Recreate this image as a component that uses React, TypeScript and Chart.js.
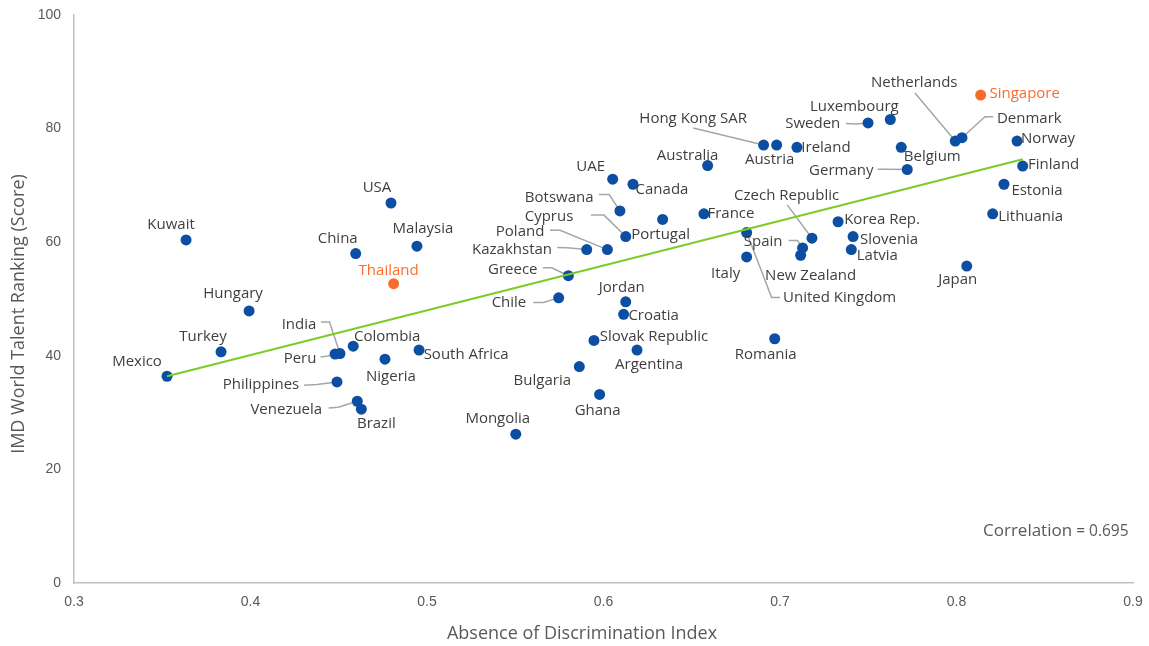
import React, { useEffect, useRef } from 'react';
import { Chart, registerables } from 'chart.js';

Chart.register(...registerables);

// ---- Data ----
const countries = [
  'Mexico', 'Turkey', 'Hungary', 'Kuwait', 'China', 'USA', 'Malaysia', 'Thailand',
  'India', 'Peru', 'Colombia', 'Nigeria', 'South Africa', 'Philippines', 'Venezuela', 'Brazil',
  'Mongolia', 'Greece', 'Chile', 'Kazakhstan', 'Poland', 'Cyprus', 'Botswana', 'UAE',
  'Canada', 'Portugal', 'Jordan', 'Croatia', 'Slovak Republic', 'Argentina', 'Bulgaria', 'Ghana',
  'Romania', 'Australia', 'France', 'United Kingdom', 'Italy', 'Czech Republic', 'Spain', 'New Zealand',
  'Korea Rep.', 'Slovenia', 'Latvia', 'Hong Kong SAR', 'Austria', 'Ireland', 'Sweden', 'Luxembourg',
  'Belgium', 'Germany', 'Netherlands', 'Denmark', 'Singapore', 'Norway', 'Finland', 'Estonia',
  'Lithuania', 'Japan',
];

const discrimination = [
  0.3527, 0.3833, 0.3992, 0.3635, 0.4596, 0.4796, 0.4943, 0.4811,
  0.4507, 0.4479, 0.4582, 0.4762, 0.4955, 0.4490, 0.4605, 0.4628,
  0.5503, 0.5801, 0.5746, 0.5905, 0.6022, 0.6126, 0.6093, 0.6052,
  0.6167, 0.6335, 0.6126, 0.6114, 0.5946, 0.6190, 0.5863, 0.5978,
  0.6970, 0.6590, 0.6569, 0.6811, 0.6811, 0.7181, 0.7128, 0.7117,
  0.7329, 0.7414, 0.7404, 0.6907, 0.6981, 0.7096, 0.7499, 0.7625,
  0.7687, 0.7721, 0.7993, 0.8031, 0.8137, 0.8343, 0.8375, 0.8269,
  0.8205, 0.8058,
];

const talentScore = [
  36.4, 40.7, 47.9, 60.4, 58.0, 66.9, 59.3, 52.7,
  40.4, 40.3, 41.7, 39.4, 41.0, 35.4, 32.0, 30.6,
  26.2, 54.1, 50.2, 58.7, 58.7, 61.0, 65.5, 71.1,
  70.2, 64.0, 49.5, 47.3, 42.7, 41.0, 38.1, 33.2,
  43.0, 73.5, 65.0, 61.7, 57.4, 60.7, 59.0, 57.7,
  63.6, 61.0, 58.7, 77.1, 77.1, 76.7, 81.0, 81.6,
  76.7, 72.8, 77.8, 78.4, 85.9, 77.8, 73.4, 70.2,
  65.0, 55.8,
];

const highlighted = ['Singapore', 'Thailand'];

const trendX = [0.3527, 0.8375];
const trendY = [36.4, 74.6];

const xTicks = [0.3, 0.4, 0.5, 0.6, 0.7, 0.8, 0.9];
const yTicks = [0, 20, 40, 60, 80, 100];

const correlation = 0.695;
const xTitle = 'Absence of Discrimination Index';
const yTitle = 'IMD World Talent Ranking (Score)';

// ---- Label layout (pixel offsets from each point) ----
type Lay = { dx: number; dy: number; leader?: number[][] };
const labelLayout: Record<string, Lay> = {
  Mexico: { dx: -30, dy: -15 },
  Turkey: { dx: -18, dy: -15 },
  Hungary: { dx: -16, dy: -17 },
  Kuwait: { dx: -15, dy: -15 },
  China: { dx: -18, dy: -15 },
  USA: { dx: -14, dy: -15 },
  Malaysia: { dx: 6, dy: -17 },
  Thailand: { dx: -5, dy: -13 },
  India: { dx: -41, dy: -29, leader: [[-19, -31.5], [-10.5, -31.5]] },
  Peru: { dx: -35, dy: 4.5, leader: [[-14.5, 3], [-7, 2]] },
  Colombia: { dx: 34, dy: -9 },
  Nigeria: { dx: 6, dy: 18 },
  'South Africa': { dx: 47, dy: 5 },
  Philippines: { dx: -76, dy: 3.3, leader: [[-33, 3.3], [-20, 2.6]] },
  Venezuela: { dx: -71, dy: 8.3, leader: [[-28.6, 6.7], [-19, 6]] },
  Brazil: { dx: 15, dy: 15 },
  Mongolia: { dx: -18, dy: -15 },
  Greece: { dx: -55.6, dy: -5.7, leader: [[-25.6, -8], [-16.6, -8]] },
  Chile: { dx: -49.7, dy: 5, leader: [[-25.4, 4.6], [-15.4, 4.6]] },
  Kazakhstan: { dx: -74.7, dy: -0.3, leader: [[-29.4, -2], [-19.7, -1.8]] },
  Poland: { dx: -87.3, dy: -17.6, leader: [[-57.3, -19.3], [-47.3, -19.3]] },
  Cyprus: { dx: -76.7, dy: -19.7, leader: [[-34.7, -21.4], [-21.7, -21.4]] },
  Botswana: { dx: -60.7, dy: -13.4, leader: [[-21, -16.4], [-10.7, -16.4]] },
  UAE: { dx: -22, dy: -12 },
  Canada: { dx: 29, dy: 5 },
  Portugal: { dx: -2, dy: 15 },
  Jordan: { dx: -4, dy: -14 },
  Croatia: { dx: 30, dy: 1 },
  'Slovak Republic': { dx: 60, dy: -4 },
  Argentina: { dx: 12, dy: 15 },
  Bulgaria: { dx: -37, dy: 14 },
  Ghana: { dx: -2, dy: 16 },
  Romania: { dx: -9, dy: 16 },
  Australia: { dx: -20, dy: -10 },
  France: { dx: 27, dy: 0 },
  'United Kingdom': { dx: 93, dy: 65, leader: [[33.3, 65], [25, 65]] },
  Italy: { dx: -21, dy: 17 },
  'Czech Republic': { dx: -25.3, dy: -42.3, leader: [[-24.7, -33.3]] },
  Spain: { dx: -39.4, dy: -5.7, leader: [[-14, -7.4], [-5, -7.4]] },
  'New Zealand': { dx: 10, dy: 20 },
  'Korea Rep.': { dx: 44, dy: -2 },
  Slovenia: { dx: 36, dy: 3 },
  Latvia: { dx: 26, dy: 6 },
  'Hong Kong SAR': { dx: -70.4, dy: -26.3, leader: [[-70.4, -17]] },
  Austria: { dx: -7, dy: 15 },
  Ireland: { dx: 29, dy: 0 },
  Sweden: { dx: -55.3, dy: 1.3, leader: [[-22, 0.6], [-12, 1]] },
  Luxembourg: { dx: -36, dy: -13 },
  Belgium: { dx: 31, dy: 9 },
  Germany: { dx: -66, dy: 1.4, leader: [[-29.6, -0.3], [-20, -0.3]] },
  Netherlands: { dx: -41, dy: -58, leader: [[-40.3, -48]] },
  Denmark: { dx: 67.3, dy: -18.7, leader: [[31.3, -21], [23, -21]] },
  Singapore: { dx: 44, dy: -1 },
  Norway: { dx: 31, dy: -2 },
  Finland: { dx: 31, dy: -1 },
  Estonia: { dx: 33, dy: 6 },
  Lithuania: { dx: 38, dy: 3 },
  Japan: { dx: -9, dy: 14 },
};

const BLUE = '#0B4EA2';
const ORANGE = '#FA6C2C';
const GREEN = '#7DCB25';
const LABEL = '#3F3F3F';
const AXIS_TEXT = '#595959';
const LABEL_FONT = '"Open Sans", sans-serif';

const annotatePlugin = {
  id: 'annotate',
  beforeDatasetsDraw(chart: any) {
    const ctx = chart.ctx as CanvasRenderingContext2D;
    const xs = chart.scales.x;
    const ys = chart.scales.y;
    ctx.save();
    ctx.strokeStyle = '#A6A6A6';
    ctx.lineWidth = 1.5;
    countries.forEach((c, i) => {
      const lay = labelLayout[c];
      if (!lay || !lay.leader) return;
      const px = xs.getPixelForValue(discrimination[i]);
      const py = ys.getPixelForValue(talentScore[i]);
      ctx.beginPath();
      lay.leader.forEach(([lx, ly], k) => {
        if (k === 0) ctx.moveTo(px + lx, py + ly);
        else ctx.lineTo(px + lx, py + ly);
      });
      ctx.lineTo(px, py);
      ctx.stroke();
    });
    ctx.restore();
  },
  afterDatasetsDraw(chart: any) {
    const ctx = chart.ctx as CanvasRenderingContext2D;
    const xs = chart.scales.x;
    const ys = chart.scales.y;
    ctx.save();
    ctx.font = `15px ${LABEL_FONT}`;
    ctx.textAlign = 'center';
    ctx.textBaseline = 'middle';
    countries.forEach((c, i) => {
      const lay = labelLayout[c] || { dx: 0, dy: -14 };
      const px = xs.getPixelForValue(discrimination[i]);
      const py = ys.getPixelForValue(talentScore[i]);
      ctx.fillStyle = highlighted.includes(c) ? ORANGE : LABEL;
      ctx.fillText(c, px + lay.dx, py + lay.dy);
    });

    // axis titles
    ctx.fillStyle = AXIS_TEXT;
    ctx.font = `18px ${LABEL_FONT}`;
    ctx.textAlign = 'center';
    ctx.textBaseline = 'middle';
    ctx.fillText(xTitle, 582, 634);
    ctx.save();
    ctx.translate(19, 314);
    ctx.rotate(-Math.PI / 2);
    ctx.fillText(yTitle, 0, 0);
    ctx.restore();

    // correlation
    ctx.textAlign = 'left';
    ctx.textBaseline = 'alphabetic';
    ctx.font = `17px ${LABEL_FONT}`;
    const word = 'Correlation';
    const startX = 983;
    ctx.fillText(word, startX, 536);
    const w = ctx.measureText(word).width;
    ctx.font = `15.5px ${LABEL_FONT}`;
    ctx.fillText(' = ' + correlation.toFixed(3), startX + w, 536);
    ctx.restore();
  },
};

const fixPadding = (scale: any) => {
  scale.paddingTop = 0;
  scale.paddingBottom = 0;
  scale.paddingLeft = 0;
  scale.paddingRight = 0;
};

export default function App() {
  const canvasRef = useRef<HTMLCanvasElement | null>(null);

  useEffect(() => {
    document.body.style.margin = '0';
    const canvas = canvasRef.current;
    if (!canvas) return;

    const points = countries.map((_, i) => ({ x: discrimination[i], y: talentScore[i] }));
    const trend = trendX.map((x, i) => ({ x, y: trendY[i] }));

    const chart = new Chart(canvas, {
      type: 'scatter',
      data: {
        datasets: [
          {
            type: 'line',
            data: trend,
            borderColor: GREEN,
            borderWidth: 2,
            pointRadius: 0,
            fill: false,
            order: 0,
          } as any,
          {
            type: 'scatter',
            data: points,
            pointRadius: 5.5,
            pointBorderWidth: 0,
            pointBackgroundColor: countries.map((c) => (highlighted.includes(c) ? ORANGE : BLUE)),
            pointBorderColor: countries.map((c) => (highlighted.includes(c) ? ORANGE : BLUE)),
            order: 1,
          } as any,
        ],
      },
      options: {
        responsive: false,
        animation: false,
        devicePixelRatio: 1,
        layout: { padding: { top: 15, right: 16, left: 0, bottom: 0 } },
        plugins: {
          legend: { display: false },
          tooltip: { enabled: false },
        },
        scales: {
          x: {
            type: 'linear',
            min: 0.3,
            max: 0.9,
            grid: { display: false, drawTicks: false },
            border: { display: true, color: '#BFBFBF', width: 1.5 },
            afterFit: (scale: any) => {
              scale.height = 63;
              fixPadding(scale);
            },
            afterBuildTicks: (scale: any) => {
              scale.ticks = xTicks.map((v) => ({ value: v }));
            },
            ticks: {
              padding: 11,
              color: AXIS_TEXT,
              font: { family: '"Liberation Sans", Arial, sans-serif', size: 14 },
              callback: (v: any) => Number(v).toFixed(1),
              maxRotation: 0,
              autoSkip: false,
            },
          },
          y: {
            type: 'linear',
            min: 0,
            max: 100,
            grid: { display: false, drawTicks: false },
            border: { display: true, color: '#BFBFBF', width: 1.5 },
            afterFit: (scale: any) => {
              scale.width = 74;
              fixPadding(scale);
            },
            afterBuildTicks: (scale: any) => {
              scale.ticks = yTicks.map((v) => ({ value: v }));
            },
            ticks: {
              padding: 13,
              color: AXIS_TEXT,
              font: { family: '"Liberation Sans", Arial, sans-serif', size: 14 },
              callback: (v: any) => String(v),
              autoSkip: false,
            },
          },
        },
      },
      plugins: [annotatePlugin],
    });

    return () => {
      chart.destroy();
    };
  }, []);

  return (
    <div style={{ position: 'absolute', left: 0, top: 0, width: 1149, height: 646, background: '#fff' }}>
      <canvas ref={canvasRef} width={1149} height={646} style={{ display: 'block' }} />
    </div>
  );
}
